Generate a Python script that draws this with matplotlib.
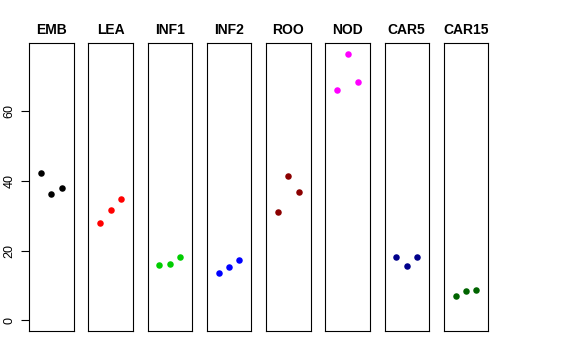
import matplotlib
matplotlib.use('Agg')
import matplotlib.pyplot as plt

plt.rcParams['font.family'] = ['Liberation Sans', 'DejaVu Sans']

# Values: three replicates per tissue
tissues = ['EMB', 'LEA', 'INF1', 'INF2', 'ROO', 'NOD', 'CAR5', 'CAR15']
colors = ['black', 'red', '#00cd00', 'blue', '#8b0000', 'magenta', '#00008b', '#006400']
values = [
    [42.3, 36.3, 37.9],
    [27.9, 31.6, 34.9],
    [15.9, 16.3, 18.1],
    [13.7, 15.3, 17.4],
    [31.1, 41.4, 36.8],
    [66.1, 76.5, 68.4],
    [18.1, 15.6, 18.1],
    [7.1, 8.4, 8.6],
]
reps = [1, 2, 3]
yticks = [0, 20, 40, 60]

ymax = 76.5
ypad = ymax * 0.04

fig = plt.figure(figsize=(5.76, 3.6), dpi=100)
W, H = 576, 360
left0 = 29.0
step = 59.25
width = 44.5
top, bottom = 43.3, 331.0

for i, (name, col, vals) in enumerate(zip(tissues, colors, values)):
    x0 = left0 + i * step
    ax = fig.add_axes([x0 / W, 1 - bottom / H, width / W, (bottom - top) / H])
    ax.scatter(reps, vals, s=22, color=col, zorder=3, linewidths=0)
    ax.set_xlim(2 - 2.13, 2 + 2.13)
    ax.set_ylim(0 - ypad, ymax + ypad)
    ax.set_xticks([])
    for sp in ax.spines.values():
        sp.set_linewidth(0.8)
        sp.set_color('black')
    ax.set_title(name, fontsize=10, fontweight='bold', pad=7)
    if i == 0:
        ax.set_yticks(yticks)
        ax.set_yticklabels([str(t) for t in yticks], rotation=90, va='center', fontsize=9)
        ax.tick_params(axis='y', length=5.5, width=0.8, pad=4)
    else:
        ax.set_yticks([])

fig.savefig('out.png', dpi=100)
